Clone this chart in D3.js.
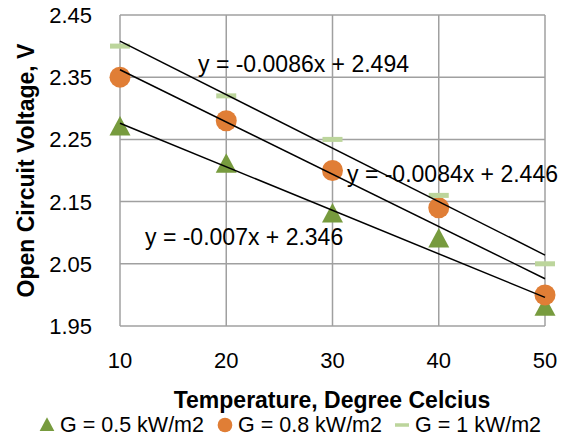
<!DOCTYPE html>
<html>
<head>
<meta charset="utf-8">
<script src="https://cdn.jsdelivr.net/npm/d3@7"></script>
<style>
  body { margin: 0; background: #fff; }
  svg { display: block; font-family: "Liberation Sans", Arial, sans-serif; }
</style>
</head>
<body>
<div id="chart"></div>
<script>
// temperatures (deg C)
var temps = [10, 20, 30, 40, 50];
// open circuit voltage for each irradiance
var voc05 = [2.27, 2.21, 2.13, 2.09, 1.98];
var voc08 = [2.35, 2.28, 2.20, 2.14, 2.00];
var voc10 = [2.40, 2.32, 2.25, 2.16, 2.05];
var seriesNames = ['G = 0.5 kW/m2', 'G = 0.8 kW/m2', 'G = 1 kW/m2'];
var yTicks = [1.95, 2.05, 2.15, 2.25, 2.35, 2.45];
var xTicks = [10, 20, 30, 40, 50];

var W = 565, H = 438;
var plotL = 120, plotR = 545, plotT = 15, plotB = 326;

var svg = d3.select('#chart')
    .append('svg')
    .attr('width', W)
    .attr('height', H);

var x = d3.scaleLinear().domain([10, 50]).range([plotL, plotR]);
var y = d3.scaleLinear().domain([1.95, 2.45]).range([plotB, plotT]);

var series = [
    {name: seriesNames[0], values: voc05, shape: 'tri', color: '#779b3e'},
    {name: seriesNames[1], values: voc08, shape: 'circle', color: '#e07e36'},
    {name: seriesNames[2], values: voc10, shape: 'dash', color: '#bcd59c'}
];

// grid
svg.append('g').selectAll('line')
    .data(yTicks)
    .enter().append('line')
    .attr('x1', plotL).attr('x2', plotR)
    .attr('y1', function (d) { return y(d); })
    .attr('y2', function (d) { return y(d); })
    .attr('stroke', '#a0a0a0').attr('stroke-width', 1.5);

svg.append('g').selectAll('line')
    .data(xTicks)
    .enter().append('line')
    .attr('y1', plotT).attr('y2', plotB)
    .attr('x1', function (d) { return x(d); })
    .attr('x2', function (d) { return x(d); })
    .attr('stroke', '#a0a0a0').attr('stroke-width', 1.5);

// tick labels
svg.append('g').selectAll('text')
    .data(yTicks)
    .enter().append('text')
    .attr('x', 92)
    .attr('y', function (d) { return y(d); })
    .attr('dy', '0.36em')
    .attr('text-anchor', 'end')
    .style('font-size', '22px')
    .text(function (d) { return d.toFixed(2); });

svg.append('g').selectAll('text')
    .data(xTicks)
    .enter().append('text')
    .attr('x', function (d) { return x(d); })
    .attr('y', 368)
    .attr('text-anchor', 'middle')
    .style('font-size', '22px')
    .text(function (d) { return d; });

// markers
function drawMarker(g, shape, color) {
    if (shape === 'tri') {
        g.append('path').attr('d', 'M0,-11L10.5,8.5L-10.5,8.5Z').attr('fill', color);
    } else if (shape === 'circle') {
        g.append('circle').attr('r', 10.5).attr('fill', color);
    } else {
        g.append('rect').attr('x', -10).attr('y', -2.5).attr('width', 20).attr('height', 5).attr('fill', color);
    }
}

series.forEach(function (s) {
    var pts = svg.append('g').selectAll('g')
        .data(s.values)
        .enter().append('g')
        .attr('transform', function (d, i) {
            return 'translate(' + x(temps[i]) + ',' + y(d) + ')';
        });
    pts.each(function () { drawMarker(d3.select(this), s.shape, s.color); });
});

// linear trend lines
function fit(xs, ys) {
    var mx = d3.mean(xs), my = d3.mean(ys);
    var num = d3.sum(xs, function (v, i) { return (v - mx) * (ys[i] - my); });
    var den = d3.sum(xs, function (v) { return (v - mx) * (v - mx); });
    var m = num / den;
    return {m: m, b: my - m * mx};
}

var eqPos = [[145, 245], [347, 182], [198, 72]];

series.forEach(function (s, k) {
    var f = fit(temps, s.values);
    svg.append('line')
        .attr('x1', x(10)).attr('y1', y(f.m * 10 + f.b))
        .attr('x2', x(50)).attr('y2', y(f.m * 50 + f.b))
        .attr('stroke', '#000').attr('stroke-width', 1.5);
    var m = +f.m.toFixed(4), b = +f.b.toFixed(3);
    svg.append('text')
        .attr('x', eqPos[k][0]).attr('y', eqPos[k][1])
        .style('font-size', '23px')
        .text('y = ' + m + 'x + ' + b);
});

// axis titles
svg.append('text')
    .attr('x', 332).attr('y', 408)
    .attr('text-anchor', 'middle')
    .style('font-size', '23px').style('font-weight', 'bold')
    .text('Temperature, Degree Celcius');

svg.append('text')
    .attr('transform', 'translate(34,' + ((plotT + plotB) / 2) + ') rotate(-90)')
    .attr('text-anchor', 'middle')
    .style('font-size', '23px').style('font-weight', 'bold')
    .text('Open Circuit Voltage, V');

// legend
var legendX = [47, 225, 402], legendTextX = [60, 238, 415];
series.forEach(function (s, k) {
    var g = svg.append('g').attr('transform', 'translate(' + legendX[k] + ',425) scale(0.7)');
    drawMarker(g, s.shape, s.color);
    svg.append('text')
        .attr('x', legendTextX[k]).attr('y', 432)
        .style('font-size', '21.5px')
        .text(s.name);
});
</script>
</body>
</html>
